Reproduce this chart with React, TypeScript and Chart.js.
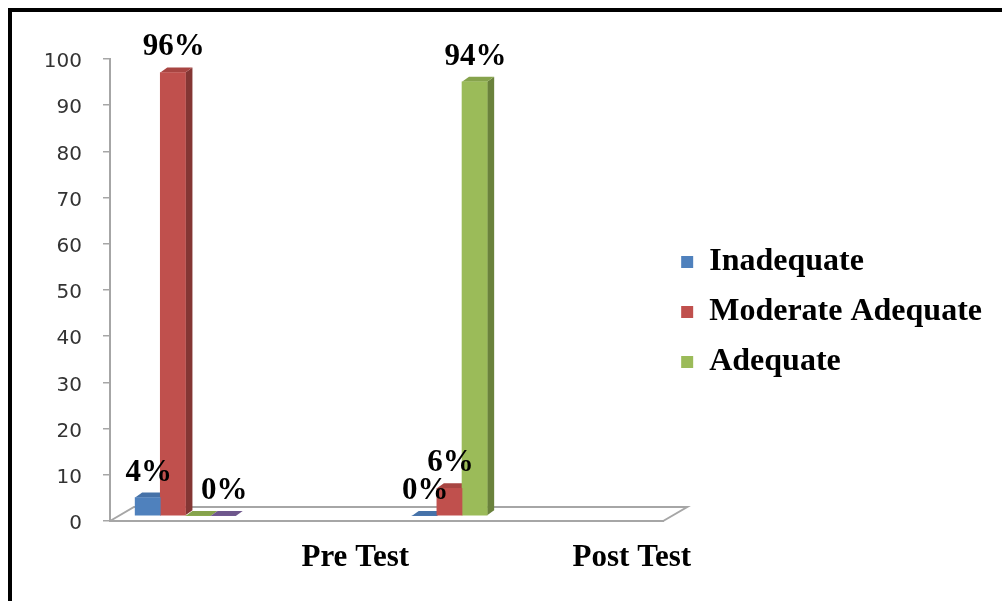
import React, { useEffect, useRef } from "react";
import { Chart, registerables } from "chart.js";

Chart.register(...registerables);

// ---- data ----
const categories = ["Pre Test", "Post Test"];
const seriesNames = ["Inadequate", "Moderate Adequate", "Adequate"];
const inadequate = [4, 0];
const moderateAdequate = [96, 6];
const adequate = [0, 94];
const unnamedSeries: (number | null)[] = [0, null]; // 4th (purple) series, not in legend
const inadequateLabels = ["4%", "0%"];
const moderateLabels = ["96%", "6%"];
const adequateLabels: (string | null)[] = [null, "94%"];
const unnamedLabels: (string | null)[] = ["0%", null];
const yMin = 0;
const yMax = 100;
const yStep = 10;

// ---- style ----
const SERIF = "'Liberation Serif', 'Times New Roman', serif";
const SANS = "'DejaVu Sans', Verdana, sans-serif";
const AXIS_COLOR = "#A6A6A6";
const FLOOR_DX = 24;
const FLOOR_DY = 14;
const BAR_DX = 7;
const BAR_DY = 5;
const LIFT = 5;

const palette = [
  { front: "#4F81BD", side: "#365A86", top: "#4672A8" },
  { front: "#C0504D", side: "#843634", top: "#A84542" },
  { front: "#9BBB59", side: "#6A823C", top: "#86A34C" },
  { front: "#8064A2", side: "#574470", top: "#6E578C" },
];

const PAD_BEFORE = 1;
const PAD_AFTER = 6;

function padDataset() {
  return {
    label: "",
    data: categories.map(() => null),
    backgroundColor: "transparent",
    borderWidth: 0,
  };
}

function realDataset(label: string, data: (number | null)[], labels: (string | null)[], c: any) {
  return {
    label,
    data,
    valueLabels: labels,
    backgroundColor: c.front,
    sideColor: c.side,
    topColor: c.top,
    borderWidth: 0,
  };
}

function poly(ctx: CanvasRenderingContext2D, pts: number[][], color: string) {
  ctx.fillStyle = color;
  ctx.beginPath();
  ctx.moveTo(pts[0][0], pts[0][1]);
  for (let i = 1; i < pts.length; i++) ctx.lineTo(pts[i][0], pts[i][1]);
  ctx.closePath();
  ctx.fill();
}

const threeD = {
  id: "threeD",
  beforeDatasetsDraw(chart: any) {
    const { ctx, chartArea: a } = chart;
    // floor
    ctx.save();
    ctx.strokeStyle = AXIS_COLOR;
    ctx.lineWidth = 2;
    ctx.beginPath();
    ctx.moveTo(a.left, a.bottom);
    ctx.lineTo(a.left + FLOOR_DX, a.bottom - FLOOR_DY);
    ctx.lineTo(a.right + FLOOR_DX, a.bottom - FLOOR_DY);
    ctx.lineTo(a.right, a.bottom);
    ctx.stroke();
    ctx.restore();

    ctx.save();
    ctx.translate(0, -LIFT);
    chart.data.datasets.forEach((ds: any, di: number) => {
      if (!ds.sideColor) return;
      const meta = chart.getDatasetMeta(di);
      meta.data.forEach((bar: any, i: number) => {
        const v = ds.data[i];
        if (v === null || v === undefined) return;
        const { x, y, base, width } = bar;
        const l = x - width / 2;
        const r = x + width / 2;
        poly(ctx, [[r, y], [r + BAR_DX, y - BAR_DY], [r + BAR_DX, base - BAR_DY], [r, base]], ds.sideColor);
        poly(ctx, [[l, y], [l + BAR_DX, y - BAR_DY], [r + BAR_DX, y - BAR_DY], [r, y]], ds.topColor);
      });
    });
  },
  afterDatasetsDraw(chart: any) {
    const { ctx } = chart;
    ctx.fillStyle = "#000";
    ctx.font = `bold 31px ${SERIF}`;
    ctx.textAlign = "center";
    ctx.textBaseline = "alphabetic";
    chart.data.datasets.forEach((ds: any, di: number) => {
      if (!ds.valueLabels) return;
      const meta = chart.getDatasetMeta(di);
      meta.data.forEach((bar: any, i: number) => {
        const t = ds.valueLabels[i];
        if (!t) return;
        ctx.fillText(t, bar.x + 1, bar.y - BAR_DY - 12);
      });
    });
    ctx.restore();
  },
};

export default function App() {
  const ref = useRef<HTMLCanvasElement>(null);

  useEffect(() => {
    if (!ref.current) return;
    const datasets: any[] = [];
    for (let k = 0; k < PAD_BEFORE; k++) datasets.push(padDataset());
    datasets.push(realDataset(seriesNames[0], inadequate, inadequateLabels, palette[0]));
    datasets.push(realDataset(seriesNames[1], moderateAdequate, moderateLabels, palette[1]));
    datasets.push(realDataset(seriesNames[2], adequate, adequateLabels, palette[2]));
    datasets.push(realDataset("", unnamedSeries, unnamedLabels, palette[3]));
    for (let k = 0; k < PAD_AFTER; k++) datasets.push(padDataset());

    const chart = new Chart(ref.current, {
      type: "bar",
      data: { labels: categories, datasets },
      plugins: [threeD],
      options: {
        responsive: false,
        animation: false,
        events: [],
        devicePixelRatio: 1,
        layout: { padding: { top: 47, right: 10, bottom: 0, left: 0 } },
        datasets: { bar: { categoryPercentage: 1, barPercentage: 1 } },
        scales: {
          x: {
            type: "category",
            offset: true,
            grid: { display: false, drawTicks: false },
            border: { display: true, color: AXIS_COLOR, width: 2 },
            ticks: {
              labelOffset: 107,
              padding: 18,
              maxRotation: 0,
              autoSkip: false,
              color: "#000",
              font: { family: SERIF, size: 31, weight: "bold" },
            },
            afterFit: (s: any) => {
              s.height = 80;
            },
          },
          y: {
            min: yMin,
            max: yMax,
            grid: {
              drawOnChartArea: false,
              drawTicks: true,
              tickLength: 7,
              color: AXIS_COLOR,
              lineWidth: 1.5,
            },
            border: { display: true, color: AXIS_COLOR, width: 2 },
            ticks: {
              stepSize: yStep,
              padding: 21,
              labelOffset: 3,
              color: "#333",
              font: { family: SANS, size: 20 },
            },
            afterFit: (s: any) => {
              s.width = 98;
            },
          },
        },
        plugins: {
          tooltip: { enabled: false },
          legend: {
            position: "right",
            align: "center",
            fullSize: false,
            maxWidth: 420,
            title: {
              display: true,
              text: " ",
              font: { size: 10 },
              padding: { top: 0, bottom: 32 },
            },
            labels: {
              boxWidth: 12,
              boxHeight: 12,
              padding: 18,
              color: "#000",
              font: { family: SERIF, size: 32, weight: "bold" },
              filter: (item: any) => item.text !== "",
            },
          },
        },
      } as any,
    });
    return () => chart.destroy();
  }, []);

  return (
    <div
      style={{
        position: "absolute",
        left: 8,
        top: 8,
        width: 994,
        height: 593,
        boxSizing: "border-box",
        borderTop: "4px solid #000",
        borderLeft: "4px solid #000",
        background: "#fff",
      }}
    >
      <canvas ref={ref} width={990} height={589} style={{ display: "block" }} />
    </div>
  );
}
